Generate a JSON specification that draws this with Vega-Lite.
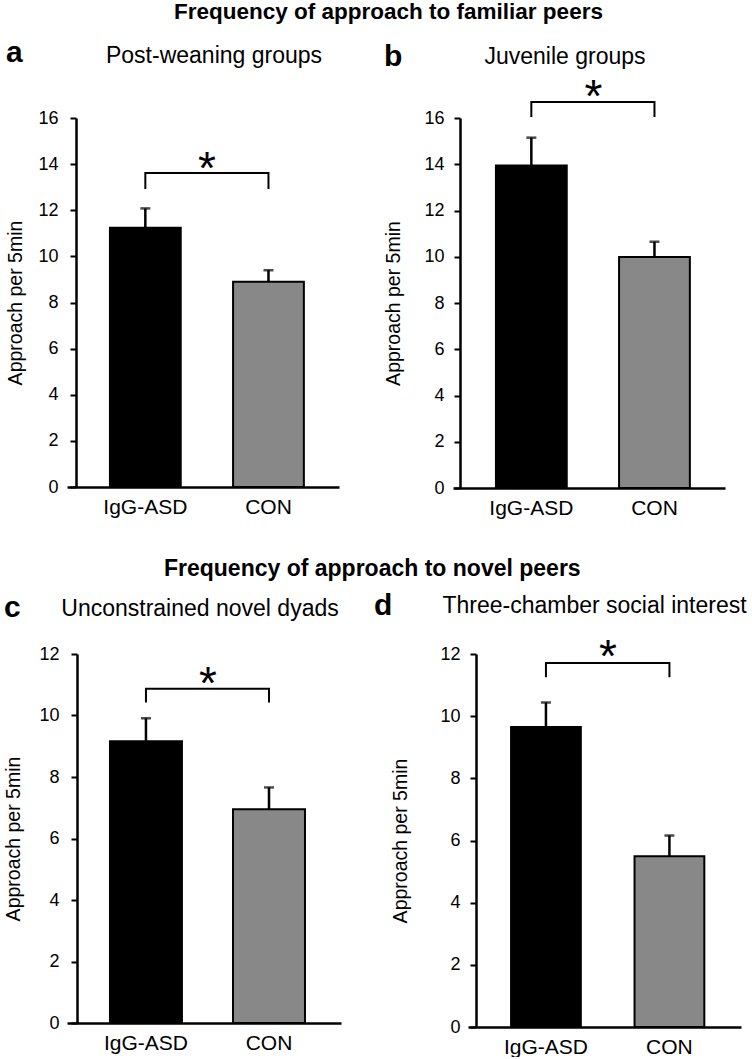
{
  "$schema": "https://vega.github.io/schema/vega-lite/v6.json",
  "padding": {"left": 3, "top": 0, "right": 0, "bottom": 0},
  "background": "white",
  "config": {
    "view": {"stroke": null},
    "font": "Liberation Sans",
    "bar": {"stroke": "black", "strokeWidth": 2},
    "axis": {"domainColor": "black", "tickColor": "black", "labelColor": "black", "titleColor": "black", "grid": false, "labelFont": "Liberation Sans", "titleFont": "Liberation Sans"}
  },
  "datasets": {
    "bars": [
      {"panel": "a", "group": "IgG-ASD", "mean": 11.24, "upper": 12.08},
      {"panel": "a", "group": "CON", "mean": 8.9, "upper": 9.4},
      {"panel": "b", "group": "IgG-ASD", "mean": 13.95, "upper": 15.15},
      {"panel": "b", "group": "CON", "mean": 9.99, "upper": 10.65},
      {"panel": "c", "group": "IgG-ASD", "mean": 9.16, "upper": 9.91},
      {"panel": "c", "group": "CON", "mean": 6.95, "upper": 7.66},
      {"panel": "d", "group": "IgG-ASD", "mean": 9.65, "upper": 10.44},
      {"panel": "d", "group": "CON", "mean": 5.49, "upper": 6.16}
    ],
    "brackets": [
      {"panel": "a", "group": "IgG-ASD", "y": 12.92, "ord": 1},
      {"panel": "a", "group": "IgG-ASD", "y": 13.62, "ord": 2},
      {"panel": "a", "group": "CON", "y": 13.62, "ord": 3},
      {"panel": "a", "group": "CON", "y": 12.92, "ord": 4},
      {"panel": "b", "group": "IgG-ASD", "y": 16.04, "ord": 1},
      {"panel": "b", "group": "IgG-ASD", "y": 16.69, "ord": 2},
      {"panel": "b", "group": "CON", "y": 16.69, "ord": 3},
      {"panel": "b", "group": "CON", "y": 16.04, "ord": 4},
      {"panel": "c", "group": "IgG-ASD", "y": 10.42, "ord": 1},
      {"panel": "c", "group": "IgG-ASD", "y": 10.87, "ord": 2},
      {"panel": "c", "group": "CON", "y": 10.87, "ord": 3},
      {"panel": "c", "group": "CON", "y": 10.42, "ord": 4},
      {"panel": "d", "group": "IgG-ASD", "y": 11.25, "ord": 1},
      {"panel": "d", "group": "IgG-ASD", "y": 11.71, "ord": 2},
      {"panel": "d", "group": "CON", "y": 11.71, "ord": 3},
      {"panel": "d", "group": "CON", "y": 11.25, "ord": 4}
    ],
    "stars": [
      {"panel": "a", "group": "IgG-ASD", "y": 14.2, "label": "*"},
      {"panel": "b", "group": "IgG-ASD", "y": 17.3, "label": "*"},
      {"panel": "c", "group": "IgG-ASD", "y": 11.33, "label": "*"},
      {"panel": "d", "group": "IgG-ASD", "y": 12.2, "label": "*"}
    ]
  },
  "vconcat": [
    {
      "title": {"text": "Frequency of approach to familiar peers", "fontSize": 22.5, "fontWeight": "bold", "anchor": "middle", "dx": 23, "offset": 15},
      "spacing": 44,
      "hconcat": [
        {
          "title": {"text": "a", "anchor": "start", "fontSize": 30, "fontWeight": "bold", "dy": 23, "offset": 0},
          "vconcat": [
            {
              "width": 272, "height": 369,
              "title": {"text": "Post-weaning groups", "fontSize": 23, "fontWeight": "normal", "anchor": "middle", "frame": "group", "dx": 11, "offset": 41},
              "layer": [
                {"data": {"name": "bars"}, "transform": [{"filter": "datum.panel == 'a'"}],
                 "mark": {"type": "bar"},
                 "encoding": {
                   "x": {"field": "group", "type": "nominal", "scale": {"domain": ["IgG-ASD", "CON"], "paddingInner": 0.425, "paddingOuter": 0.317, "align": 0.55}, "axis": {"title": null, "ticks": false, "labelAngle": 0, "labelFontSize": 21, "labelPadding": 9, "domainWidth": 2.5}},
                   "y": {"field": "mean", "type": "quantitative", "scale": {"domain": [0, 16], "nice": false}, "axis": {"title": "Approach per 5min", "titleFontSize": 19.5, "titleFontWeight": "normal", "titlePadding": 12, "values": [0,1,2,3,4,5,6,7,8,9,10,11,12,13,14,15,16], "labelExpr": "datum.value % 2 == 0 ? datum.label : ''", "labelFontSize": 18, "labelPadding": 12, "tickSize": 6, "tickWidth": 2, "domainWidth": 2.5, "offset": -9}},
                   "color": {"field": "group", "type": "nominal", "scale": {"domain": ["IgG-ASD", "CON"], "range": ["#000000", "#888888"]}, "legend": null}
                 }},
                {"data": {"name": "bars"}, "transform": [{"filter": "datum.panel == 'a'"}],
                 "mark": {"type": "rule", "color": "black", "strokeWidth": 2.5},
                 "encoding": {"x": {"field": "group", "type": "nominal"}, "y": {"field": "mean", "type": "quantitative"}, "y2": {"field": "upper"}}},
                {"data": {"name": "bars"}, "transform": [{"filter": "datum.panel == 'a'"}],
                 "mark": {"type": "tick", "color": "black", "size": 10, "thickness": 2.5, "orient": "horizontal"},
                 "encoding": {"x": {"field": "group", "type": "nominal"}, "y": {"field": "upper", "type": "quantitative"}}},
                {"data": {"name": "brackets"}, "transform": [{"filter": "datum.panel == 'a'"}],
                 "mark": {"type": "line", "color": "black", "strokeWidth": 2},
                 "encoding": {"x": {"field": "group", "type": "nominal"}, "y": {"field": "y", "type": "quantitative"}, "order": {"field": "ord"}}},
                {"data": {"name": "stars"}, "transform": [{"filter": "datum.panel == 'a'"}],
                 "mark": {"type": "text", "fontSize": 46, "baseline": "middle", "dx": 61.5, "dy": 10, "color": "black"},
                 "encoding": {"x": {"field": "group", "type": "nominal"}, "y": {"field": "y", "type": "quantitative"}, "text": {"field": "label"}}}
              ]
            }
          ]
        },
        {
          "title": {"text": "b", "anchor": "start", "fontSize": 30, "fontWeight": "bold", "dy": 26, "offset": 0},
          "vconcat": [
            {
              "width": 272, "height": 370,
              "title": {"text": "Juvenile groups", "fontSize": 23, "fontWeight": "normal", "anchor": "middle", "frame": "group", "dx": -24, "offset": 6},
              "layer": [
                {"data": {"name": "bars"}, "transform": [{"filter": "datum.panel == 'b'"}],
                 "mark": {"type": "bar"},
                 "encoding": {
                   "x": {"field": "group", "type": "nominal", "scale": {"domain": ["IgG-ASD", "CON"], "paddingInner": 0.425, "paddingOuter": 0.317, "align": 0.55}, "axis": {"title": null, "ticks": false, "labelAngle": 0, "labelFontSize": 21, "labelPadding": 9, "domainWidth": 2.5}},
                   "y": {"field": "mean", "type": "quantitative", "scale": {"domain": [0, 16], "nice": false}, "axis": {"title": "Approach per 5min", "titleFontSize": 19.5, "titleFontWeight": "normal", "titlePadding": 20, "values": [0,1,2,3,4,5,6,7,8,9,10,11,12,13,14,15,16], "labelExpr": "datum.value % 2 == 0 ? datum.label : ''", "labelFontSize": 18, "labelPadding": 10, "tickSize": 6, "tickWidth": 2, "domainWidth": 2.5, "offset": -7}},
                   "color": {"field": "group", "type": "nominal", "scale": {"domain": ["IgG-ASD", "CON"], "range": ["#000000", "#888888"]}, "legend": null}
                 }},
                {"data": {"name": "bars"}, "transform": [{"filter": "datum.panel == 'b'"}],
                 "mark": {"type": "rule", "color": "black", "strokeWidth": 2.5},
                 "encoding": {"x": {"field": "group", "type": "nominal"}, "y": {"field": "mean", "type": "quantitative"}, "y2": {"field": "upper"}}},
                {"data": {"name": "bars"}, "transform": [{"filter": "datum.panel == 'b'"}],
                 "mark": {"type": "tick", "color": "black", "size": 10, "thickness": 2.5, "orient": "horizontal"},
                 "encoding": {"x": {"field": "group", "type": "nominal"}, "y": {"field": "upper", "type": "quantitative"}}},
                {"data": {"name": "brackets"}, "transform": [{"filter": "datum.panel == 'b'"}],
                 "mark": {"type": "line", "color": "black", "strokeWidth": 2},
                 "encoding": {"x": {"field": "group", "type": "nominal"}, "y": {"field": "y", "type": "quantitative"}, "order": {"field": "ord"}}},
                {"data": {"name": "stars"}, "transform": [{"filter": "datum.panel == 'b'"}],
                 "mark": {"type": "text", "fontSize": 46, "baseline": "middle", "dx": 62, "dy": 10, "color": "black"},
                 "encoding": {"x": {"field": "group", "type": "nominal"}, "y": {"field": "y", "type": "quantitative"}, "text": {"field": "label"}}}
              ]
            }
          ]
        }
      ]
    },
    {
      "title": {"text": "Frequency of approach to novel peers", "fontSize": 23, "fontWeight": "bold", "anchor": "middle", "dx": -3, "offset": 10},
      "spacing": 32,
      "hconcat": [
        {
          "title": {"text": "c", "anchor": "start", "fontSize": 30, "fontWeight": "bold", "dy": 25, "offset": 0},
          "vconcat": [
            {
              "width": 274, "height": 369,
              "title": {"text": "Unconstrained novel dyads", "fontSize": 23, "fontWeight": "normal", "anchor": "middle", "frame": "group", "dx": -4, "offset": 24},
              "layer": [
                {"data": {"name": "bars"}, "transform": [{"filter": "datum.panel == 'c'"}],
                 "mark": {"type": "bar"},
                 "encoding": {
                   "x": {"field": "group", "type": "nominal", "scale": {"domain": ["IgG-ASD", "CON"], "paddingInner": 0.415, "paddingOuter": 0.321, "align": 0.544}, "axis": {"title": null, "ticks": false, "labelAngle": 0, "labelFontSize": 21, "labelPadding": 9, "domainWidth": 2.5}},
                   "y": {"field": "mean", "type": "quantitative", "scale": {"domain": [0, 12], "nice": false}, "axis": {"title": "Approach per 5min", "titleFontSize": 19.5, "titleFontWeight": "normal", "titlePadding": 15, "values": [0,1,2,3,4,5,6,7,8,9,10,11,12], "labelExpr": "datum.value % 2 == 0 ? datum.label : ''", "labelFontSize": 18, "labelPadding": 12, "tickSize": 6, "tickWidth": 2, "domainWidth": 2.5, "offset": -10}},
                   "color": {"field": "group", "type": "nominal", "scale": {"domain": ["IgG-ASD", "CON"], "range": ["#000000", "#888888"]}, "legend": null}
                 }},
                {"data": {"name": "bars"}, "transform": [{"filter": "datum.panel == 'c'"}],
                 "mark": {"type": "rule", "color": "black", "strokeWidth": 2.5},
                 "encoding": {"x": {"field": "group", "type": "nominal"}, "y": {"field": "mean", "type": "quantitative"}, "y2": {"field": "upper"}}},
                {"data": {"name": "bars"}, "transform": [{"filter": "datum.panel == 'c'"}],
                 "mark": {"type": "tick", "color": "black", "size": 10, "thickness": 2.5, "orient": "horizontal"},
                 "encoding": {"x": {"field": "group", "type": "nominal"}, "y": {"field": "upper", "type": "quantitative"}}},
                {"data": {"name": "brackets"}, "transform": [{"filter": "datum.panel == 'c'"}],
                 "mark": {"type": "line", "color": "black", "strokeWidth": 2},
                 "encoding": {"x": {"field": "group", "type": "nominal"}, "y": {"field": "y", "type": "quantitative"}, "order": {"field": "ord"}}},
                {"data": {"name": "stars"}, "transform": [{"filter": "datum.panel == 'c'"}],
                 "mark": {"type": "text", "fontSize": 46, "baseline": "middle", "dx": 62, "dy": 10, "color": "black"},
                 "encoding": {"x": {"field": "group", "type": "nominal"}, "y": {"field": "y", "type": "quantitative"}, "text": {"field": "label"}}}
              ]
            }
          ]
        },
        {
          "title": {"text": "d", "anchor": "start", "fontSize": 30, "fontWeight": "bold", "dy": 26, "dx": -17, "offset": 0},
          "vconcat": [
            {
              "width": 273, "height": 373,
              "title": {"text": "Three-chamber social interest", "fontSize": 23, "fontWeight": "normal", "anchor": "middle", "frame": "group", "dx": -10, "offset": 17},
              "layer": [
                {"data": {"name": "bars"}, "transform": [{"filter": "datum.panel == 'd'"}],
                 "mark": {"type": "bar"},
                 "encoding": {
                   "x": {"field": "group", "type": "nominal", "scale": {"domain": ["IgG-ASD", "CON"], "paddingInner": 0.435, "paddingOuter": 0.323, "align": 0.54}, "axis": {"title": null, "ticks": false, "labelAngle": 0, "labelFontSize": 21, "labelPadding": 9, "domainWidth": 2.5}},
                   "y": {"field": "mean", "type": "quantitative", "scale": {"domain": [0, 12], "nice": false}, "axis": {"title": "Approach per 5min", "titleFontSize": 19.5, "titleFontWeight": "normal", "titlePadding": 29, "values": [0,1,2,3,4,5,6,7,8,9,10,11,12], "labelExpr": "datum.value % 2 == 0 ? datum.label : ''", "labelFontSize": 18, "labelPadding": 10, "tickSize": 6, "tickWidth": 2, "domainWidth": 2.5, "offset": -8}},
                   "color": {"field": "group", "type": "nominal", "scale": {"domain": ["IgG-ASD", "CON"], "range": ["#000000", "#888888"]}, "legend": null}
                 }},
                {"data": {"name": "bars"}, "transform": [{"filter": "datum.panel == 'd'"}],
                 "mark": {"type": "rule", "color": "black", "strokeWidth": 2.5},
                 "encoding": {"x": {"field": "group", "type": "nominal"}, "y": {"field": "mean", "type": "quantitative"}, "y2": {"field": "upper"}}},
                {"data": {"name": "bars"}, "transform": [{"filter": "datum.panel == 'd'"}],
                 "mark": {"type": "tick", "color": "black", "size": 10, "thickness": 2.5, "orient": "horizontal"},
                 "encoding": {"x": {"field": "group", "type": "nominal"}, "y": {"field": "upper", "type": "quantitative"}}},
                {"data": {"name": "brackets"}, "transform": [{"filter": "datum.panel == 'd'"}],
                 "mark": {"type": "line", "color": "black", "strokeWidth": 2},
                 "encoding": {"x": {"field": "group", "type": "nominal"}, "y": {"field": "y", "type": "quantitative"}, "order": {"field": "ord"}}},
                {"data": {"name": "stars"}, "transform": [{"filter": "datum.panel == 'd'"}],
                 "mark": {"type": "text", "fontSize": 46, "baseline": "middle", "dx": 62, "dy": 10, "color": "black"},
                 "encoding": {"x": {"field": "group", "type": "nominal"}, "y": {"field": "y", "type": "quantitative"}, "text": {"field": "label"}}}
              ]
            }
          ]
        }
      ]
    }
  ],
  "spacing": 39
}
